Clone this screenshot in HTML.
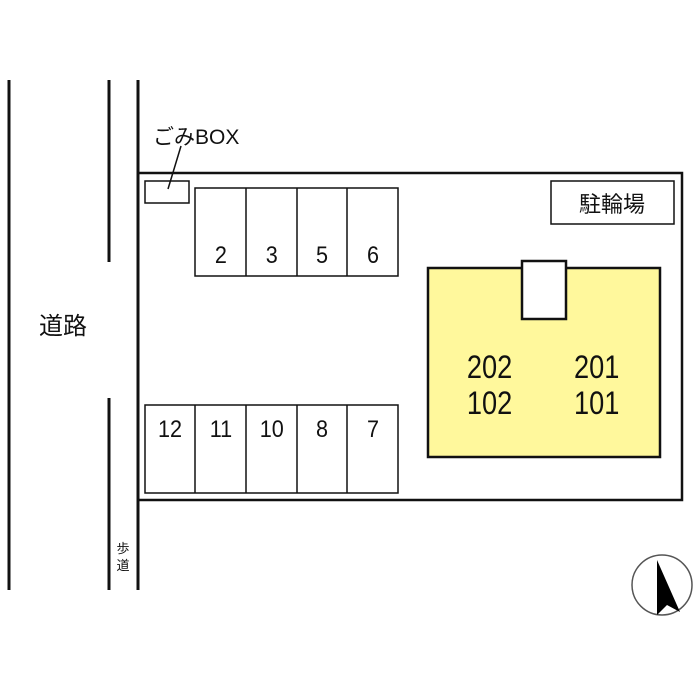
<!DOCTYPE html>
<html><head><meta charset="utf-8"><style>
body{margin:0;background:#fff}
svg{display:block}
text{font-family:"Liberation Sans","Noto Sans CJK JP",sans-serif;fill:#111}
</style></head><body>
<svg width="700" height="700" viewBox="0 0 700 700">
<g stroke="#111" fill="none">
<line x1="9" y1="80" x2="9" y2="590" stroke-width="3"/>
<line x1="109" y1="80" x2="109" y2="262" stroke-width="3"/>
<line x1="109" y1="398" x2="109" y2="590" stroke-width="3"/>
<line x1="138" y1="80" x2="138" y2="590" stroke-width="3"/>
<polyline points="138,173 682,173 682,500 138,500" stroke-width="2.5"/>
<rect x="145" y="181" width="44" height="22" stroke-width="1.5"/>
<line x1="181" y1="146" x2="168" y2="189" stroke-width="1.5"/>
<rect x="195" y="188" width="203" height="88" stroke-width="1.5"/>
<line x1="246" y1="188" x2="246" y2="276" stroke-width="1.5"/>
<line x1="297" y1="188" x2="297" y2="276" stroke-width="1.5"/>
<line x1="347" y1="188" x2="347" y2="276" stroke-width="1.5"/>
<rect x="145" y="405" width="253" height="88" stroke-width="1.5"/>
<line x1="195" y1="405" x2="195" y2="493" stroke-width="1.5"/>
<line x1="246" y1="405" x2="246" y2="493" stroke-width="1.5"/>
<line x1="297" y1="405" x2="297" y2="493" stroke-width="1.5"/>
<line x1="347" y1="405" x2="347" y2="493" stroke-width="1.5"/>
<rect x="551" y="181" width="123" height="43" stroke-width="1.5"/>
<rect x="428" y="268" width="232" height="189" fill="#fff89c" stroke-width="2.5"/>
<rect x="522" y="261" width="44" height="58" fill="#fff" stroke-width="2.5"/>
<circle cx="662" cy="585" r="30" stroke="#555" stroke-width="1.5"/>
</g>
<polygon points="657,560 657,615 667,605 680,612" fill="#000"/>
<text x="153" y="144" font-size="21">ごみBOX</text>
<g font-size="24" text-anchor="middle" transform="scale(0.9,1)">
<text x="245.5" y="263">2</text><text x="302" y="263">3</text><text x="357.8" y="263">5</text><text x="414.4" y="263">6</text>
<text x="188.9" y="437">12</text><text x="245.5" y="437">11</text><text x="302" y="437">10</text><text x="357.8" y="437">8</text><text x="414.4" y="437">7</text>
</g>
<text x="612" y="212" font-size="22" text-anchor="middle">駐輪場</text>
<g font-size="32" text-anchor="middle" transform="scale(0.85,1)">
<text x="576" y="378">202</text><text x="702" y="378">201</text>
<text x="576" y="414">102</text><text x="702" y="414">101</text>
</g>
<text x="63" y="334" font-size="24" text-anchor="middle">道路</text>
<text x="123" y="553" font-size="13" text-anchor="middle">歩</text>
<text x="123" y="570" font-size="13" text-anchor="middle">道</text>
</svg>
</body></html>
